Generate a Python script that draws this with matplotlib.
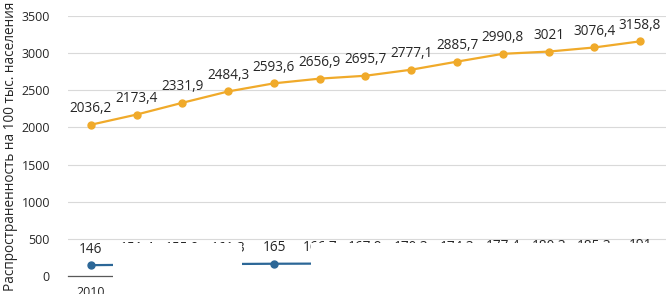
import matplotlib
matplotlib.use("Agg")
import matplotlib.pyplot as plt
from matplotlib.patches import Rectangle

# data
years = ["2010", "2011", "2012", "2013", "2014", "2015", "2016",
         "2017", "2018", "2019", "2020", "2021", "2022"]
prevalence = [2036.2, 2173.4, 2331.9, 2484.3, 2593.6, 2656.9, 2695.7,
              2777.1, 2885.7, 2990.8, 3021, 3076.4, 3158.8]
incidence = [146, 151.4, 155.9, 161.3, 165, 166.7, 167.9,
             170.3, 174.3, 177.4, 180.3, 185.3, 191]
y_ticks = [0, 500, 1000, 1500, 2000, 2500, 3000, 3500]
y_title = "Распространенность на 100 тыс. населения"

orange = "#F0AA2A"
blue = "#2C6797"

W, H = 666, 294
plt.rcParams["font.family"] = ["Open Sans", "DejaVu Sans"]

def fmt(v):
    if float(v).is_integer():
        return str(int(v))
    return f"{v:.1f}".replace(".", ",")

fig = plt.figure(figsize=(W / 100, H / 100), dpi=100)
ax = fig.add_axes([68 / W, 18 / H, (666 - 68) / W, (276 - 16) / H])

xs = list(range(len(years)))
for vals, col in [(prevalence, orange), (incidence, blue)]:
    ax.plot(xs, vals, color=col, lw=1.6, marker="o", ms=5, zorder=3)
    for x, v in zip(xs, vals):
        ax.annotate(fmt(v), (x, v), xytext=(0, 6), textcoords="offset points",
                    ha="center", va="bottom", fontsize=9.8, color="#262626")

ax.set_xlim(-0.5, len(years) - 0.434)
ax.set_ylim(0, 3500)
ax.set_yticks(y_ticks)
ax.set_xticks(xs)
ax.set_xticklabels(years)
ax.grid(axis="y", color="#d9d9d9", lw=0.8)
ax.set_axisbelow(True)
for s in ["top", "right", "left"]:
    ax.spines[s].set_visible(False)
ax.spines["bottom"].set_color("#595959")
ax.spines["bottom"].set_linewidth(0.9)
ax.tick_params(axis="y", length=0, pad=13, labelsize=9, labelcolor="#262626")
ax.tick_params(axis="x", length=0, pad=7, labelsize=9, labelcolor="#262626")
ax.set_ylabel(y_title, fontsize=9.8, color="#262626")
ax.yaxis.set_label_coords(-0.084, 0.5)

# white cover over the lower strip, leaving the two visible windows
for x0, x1, y0, y1 in [(113, 242, 243, 294), (311, 666, 243, 294), (242, 311, 272, 294)]:
    fig.add_artist(Rectangle((x0 / W, 1 - y1 / H), (x1 - x0) / W, (y1 - y0) / H,
                             transform=fig.transFigure, facecolor="white",
                             edgecolor="none", zorder=10))

fig.savefig("out.png", dpi=100)
